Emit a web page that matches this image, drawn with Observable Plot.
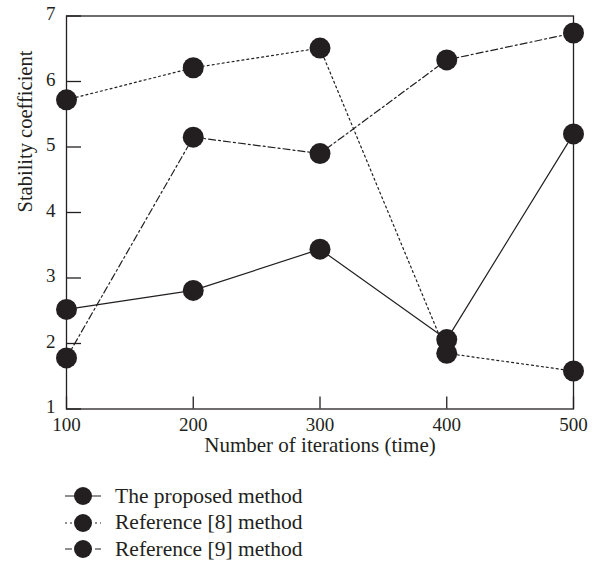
<!DOCTYPE html>
<html><head><meta charset="utf-8">
<script src="https://cdn.jsdelivr.net/npm/d3@7"></script>
<script src="https://cdn.jsdelivr.net/npm/@observablehq/plot@0.6"></script>
<style>
body{margin:0;background:#fff;font-family:"Liberation Serif",serif;}
#chart{position:absolute;left:0;top:0;}
#legend{position:absolute;left:0;top:483px;}
.row{display:flex;align-items:center;height:26.5px;color:#231f20;font-size:21.5px;white-space:nowrap}
.row svg{margin-left:63px;margin-right:12px;flex:none}
</style></head><body><div id="chart"></div><div id="legend"></div>
<script>
const iterations = [100, 200, 300, 400, 500];
const proposed = [2.52, 2.81, 3.44, 2.06, 5.2];
const ref8 = [5.72, 6.21, 6.51, 1.85, 1.58];
const ref9 = [1.78, 5.15, 4.9, 6.33, 6.74];
const seriesNames = ["The proposed method", "Reference [8] method", "Reference [9] method"];
const seriesDash = [null, "2,3", "7,3,2,3"];
const yTicks = [1, 2, 3, 4, 5, 6, 7];
const xTicks = [100, 200, 300, 400, 500];
const xLabel = "Number of iterations (time)";
const yLabel = "Stability coefficient";

const ink = "#231f20";
const W = 597, H = 470, mL = 66, mR = 24, mT = 15.5, mB = 61.5;
const pw = W - mL - mR, ph = H - mT - mB;

const allSeries = [proposed, ref8, ref9];
const rows = allSeries.flatMap((vals, si) => vals.map((v, i) => ({series: seriesNames[si], si, x: iterations[i], y: v})));

const marks = [
  Plot.frame({stroke: ink, strokeWidth: 1.3}),
  Plot.tickY(yTicks, {y: d => d, stroke: ink, strokeWidth: 1.3, insetRight: pw - 15}),
  Plot.tickX(xTicks, {x: d => d, stroke: ink, strokeWidth: 1.3, insetTop: ph - 12}),
  Plot.axisY({ticks: yTicks, tickSize: 0, tickPadding: 11, dy: -2, label: null, tickFormat: d => String(d), fontSize: 19}),
  Plot.axisX({ticks: xTicks, tickSize: 0, tickPadding: 8, label: null, tickFormat: d => String(d), fontSize: 19}),
];
allSeries.forEach((vals, si) => {
  marks.push(Plot.line(rows.filter(r => r.si === si), {x: "x", y: "y", stroke: ink, strokeWidth: 1.2, strokeDasharray: seriesDash[si] || undefined}));
});
marks.push(Plot.dot(rows, {x: "x", y: "y", r: 10.5, fill: ink, stroke: "none"}));
marks.push(Plot.text([xLabel], {frameAnchor: "bottom", dy: 43, fill: ink, fontSize: 21}));
marks.push(Plot.text([yLabel], {frameAnchor: "left", rotate: -90, dx: -41, fill: ink, fontSize: 20.5}));

const chart = Plot.plot({
  width: W, height: H,
  marginLeft: mL, marginRight: mR, marginTop: mT, marginBottom: mB,
  x: {domain: [100, 500]},
  y: {domain: [1, 7]},
  style: {fontFamily: "Liberation Serif, serif", fontSize: "19px", color: ink, background: "white", overflow: "visible"},
  marks
});
document.getElementById("chart").appendChild(chart);

const legend = document.getElementById("legend");
seriesNames.forEach((name, si) => {
  const row = document.createElement("div");
  row.className = "row";
  const dash = seriesDash[si] ? `stroke-dasharray="${seriesDash[si]}"` : "";
  row.innerHTML = `<svg width="40" height="22"><line x1="2" x2="38" y1="11" y2="11" stroke="${ink}" stroke-width="1.2" ${dash}/><circle cx="20" cy="11" r="9" fill="${ink}"/></svg><span>${name}</span>`;
  legend.appendChild(row);
});
</script></body></html>
